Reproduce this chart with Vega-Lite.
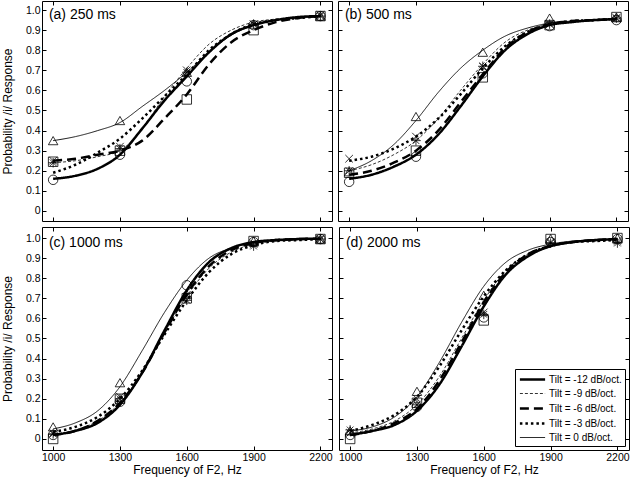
{
  "$schema": "https://vega.github.io/schema/vega-lite/v6.json",
  "padding": {"left": 0, "top": 0, "right": 0, "bottom": 4},
  "background": "white",
  "config": {
    "view": {"stroke": "black", "strokeWidth": 1},
    "font": "Liberation Sans",
    "axis": {"domain": false, "grid": false, "tickColor": "black", "tickSize": -4, "tickWidth": 1, "labelColor": "black", "labelFont": "Liberation Sans", "labelFontSize": 10.5, "titleFont": "Liberation Sans", "titleFontSize": 12, "titleFontWeight": "normal", "titleColor": "black", "labelPadding": 6}
  },
  "datasets": {
    "curves": [
      {"panel":"a","tilt":-12,"f":1000,"p":0.16},{"panel":"a","tilt":-12,"f":1100,"p":0.175},{"panel":"a","tilt":-12,"f":1200,"p":0.21},{"panel":"a","tilt":-12,"f":1300,"p":0.28},{"panel":"a","tilt":-12,"f":1400,"p":0.41},{"panel":"a","tilt":-12,"f":1500,"p":0.55},{"panel":"a","tilt":-12,"f":1600,"p":0.67},{"panel":"a","tilt":-12,"f":1700,"p":0.79},{"panel":"a","tilt":-12,"f":1800,"p":0.88},{"panel":"a","tilt":-12,"f":1900,"p":0.925},{"panel":"a","tilt":-12,"f":2000,"p":0.95},{"panel":"a","tilt":-12,"f":2100,"p":0.965},{"panel":"a","tilt":-12,"f":2200,"p":0.97},
      {"panel":"a","tilt":-9,"f":1000,"p":0.24},{"panel":"a","tilt":-9,"f":1100,"p":0.25},{"panel":"a","tilt":-9,"f":1200,"p":0.27},{"panel":"a","tilt":-9,"f":1300,"p":0.3},{"panel":"a","tilt":-9,"f":1400,"p":0.41},{"panel":"a","tilt":-9,"f":1500,"p":0.57},{"panel":"a","tilt":-9,"f":1600,"p":0.71},{"panel":"a","tilt":-9,"f":1700,"p":0.83},{"panel":"a","tilt":-9,"f":1800,"p":0.9},{"panel":"a","tilt":-9,"f":1900,"p":0.94},{"panel":"a","tilt":-9,"f":2000,"p":0.955},{"panel":"a","tilt":-9,"f":2100,"p":0.965},{"panel":"a","tilt":-9,"f":2200,"p":0.97},
      {"panel":"a","tilt":-6,"f":1000,"p":0.25},{"panel":"a","tilt":-6,"f":1100,"p":0.26},{"panel":"a","tilt":-6,"f":1200,"p":0.28},{"panel":"a","tilt":-6,"f":1300,"p":0.3},{"panel":"a","tilt":-6,"f":1400,"p":0.35},{"panel":"a","tilt":-6,"f":1500,"p":0.46},{"panel":"a","tilt":-6,"f":1600,"p":0.58},{"panel":"a","tilt":-6,"f":1700,"p":0.73},{"panel":"a","tilt":-6,"f":1800,"p":0.84},{"panel":"a","tilt":-6,"f":1900,"p":0.9},{"panel":"a","tilt":-6,"f":2000,"p":0.94},{"panel":"a","tilt":-6,"f":2100,"p":0.96},{"panel":"a","tilt":-6,"f":2200,"p":0.97},
      {"panel":"a","tilt":-3,"f":1000,"p":0.19},{"panel":"a","tilt":-3,"f":1100,"p":0.23},{"panel":"a","tilt":-3,"f":1200,"p":0.29},{"panel":"a","tilt":-3,"f":1300,"p":0.36},{"panel":"a","tilt":-3,"f":1400,"p":0.46},{"panel":"a","tilt":-3,"f":1500,"p":0.57},{"panel":"a","tilt":-3,"f":1600,"p":0.68},{"panel":"a","tilt":-3,"f":1700,"p":0.8},{"panel":"a","tilt":-3,"f":1800,"p":0.88},{"panel":"a","tilt":-3,"f":1900,"p":0.93},{"panel":"a","tilt":-3,"f":2000,"p":0.95},{"panel":"a","tilt":-3,"f":2100,"p":0.96},{"panel":"a","tilt":-3,"f":2200,"p":0.97},
      {"panel":"a","tilt":0,"f":1000,"p":0.35},{"panel":"a","tilt":0,"f":1100,"p":0.37},{"panel":"a","tilt":0,"f":1200,"p":0.4},{"panel":"a","tilt":0,"f":1300,"p":0.44},{"panel":"a","tilt":0,"f":1400,"p":0.52},{"panel":"a","tilt":0,"f":1500,"p":0.6},{"panel":"a","tilt":0,"f":1600,"p":0.69},{"panel":"a","tilt":0,"f":1700,"p":0.79},{"panel":"a","tilt":0,"f":1800,"p":0.875},{"panel":"a","tilt":0,"f":1900,"p":0.925},{"panel":"a","tilt":0,"f":2000,"p":0.95},{"panel":"a","tilt":0,"f":2100,"p":0.96},{"panel":"a","tilt":0,"f":2200,"p":0.97},

      {"panel":"b","tilt":-12,"f":1000,"p":0.16},{"panel":"b","tilt":-12,"f":1100,"p":0.18},{"panel":"b","tilt":-12,"f":1200,"p":0.22},{"panel":"b","tilt":-12,"f":1300,"p":0.28},{"panel":"b","tilt":-12,"f":1400,"p":0.38},{"panel":"b","tilt":-12,"f":1500,"p":0.52},{"panel":"b","tilt":-12,"f":1600,"p":0.67},{"panel":"b","tilt":-12,"f":1700,"p":0.8},{"panel":"b","tilt":-12,"f":1800,"p":0.88},{"panel":"b","tilt":-12,"f":1900,"p":0.925},{"panel":"b","tilt":-12,"f":2000,"p":0.94},{"panel":"b","tilt":-12,"f":2100,"p":0.95},{"panel":"b","tilt":-12,"f":2200,"p":0.955},
      {"panel":"b","tilt":-9,"f":1000,"p":0.2},{"panel":"b","tilt":-9,"f":1100,"p":0.23},{"panel":"b","tilt":-9,"f":1200,"p":0.28},{"panel":"b","tilt":-9,"f":1300,"p":0.35},{"panel":"b","tilt":-9,"f":1400,"p":0.46},{"panel":"b","tilt":-9,"f":1500,"p":0.6},{"panel":"b","tilt":-9,"f":1600,"p":0.73},{"panel":"b","tilt":-9,"f":1700,"p":0.84},{"panel":"b","tilt":-9,"f":1800,"p":0.9},{"panel":"b","tilt":-9,"f":1900,"p":0.93},{"panel":"b","tilt":-9,"f":2000,"p":0.945},{"panel":"b","tilt":-9,"f":2100,"p":0.95},{"panel":"b","tilt":-9,"f":2200,"p":0.955},
      {"panel":"b","tilt":-6,"f":1000,"p":0.18},{"panel":"b","tilt":-6,"f":1100,"p":0.2},{"panel":"b","tilt":-6,"f":1200,"p":0.24},{"panel":"b","tilt":-6,"f":1300,"p":0.3},{"panel":"b","tilt":-6,"f":1400,"p":0.4},{"panel":"b","tilt":-6,"f":1500,"p":0.54},{"panel":"b","tilt":-6,"f":1600,"p":0.68},{"panel":"b","tilt":-6,"f":1700,"p":0.81},{"panel":"b","tilt":-6,"f":1800,"p":0.89},{"panel":"b","tilt":-6,"f":1900,"p":0.93},{"panel":"b","tilt":-6,"f":2000,"p":0.945},{"panel":"b","tilt":-6,"f":2100,"p":0.95},{"panel":"b","tilt":-6,"f":2200,"p":0.955},
      {"panel":"b","tilt":-3,"f":1000,"p":0.25},{"panel":"b","tilt":-3,"f":1100,"p":0.27},{"panel":"b","tilt":-3,"f":1200,"p":0.31},{"panel":"b","tilt":-3,"f":1300,"p":0.37},{"panel":"b","tilt":-3,"f":1400,"p":0.46},{"panel":"b","tilt":-3,"f":1500,"p":0.58},{"panel":"b","tilt":-3,"f":1600,"p":0.71},{"panel":"b","tilt":-3,"f":1700,"p":0.82},{"panel":"b","tilt":-3,"f":1800,"p":0.89},{"panel":"b","tilt":-3,"f":1900,"p":0.93},{"panel":"b","tilt":-3,"f":2000,"p":0.945},{"panel":"b","tilt":-3,"f":2100,"p":0.95},{"panel":"b","tilt":-3,"f":2200,"p":0.955},
      {"panel":"b","tilt":0,"f":1000,"p":0.2},{"panel":"b","tilt":0,"f":1100,"p":0.25},{"panel":"b","tilt":0,"f":1200,"p":0.33},{"panel":"b","tilt":0,"f":1300,"p":0.45},{"panel":"b","tilt":0,"f":1400,"p":0.59},{"panel":"b","tilt":0,"f":1500,"p":0.71},{"panel":"b","tilt":0,"f":1600,"p":0.8},{"panel":"b","tilt":0,"f":1700,"p":0.87},{"panel":"b","tilt":0,"f":1800,"p":0.91},{"panel":"b","tilt":0,"f":1900,"p":0.935},{"panel":"b","tilt":0,"f":2000,"p":0.945},{"panel":"b","tilt":0,"f":2100,"p":0.95},{"panel":"b","tilt":0,"f":2200,"p":0.955},

      {"panel":"c","tilt":-12,"f":1000,"p":0.02},{"panel":"c","tilt":-12,"f":1100,"p":0.04},{"panel":"c","tilt":-12,"f":1200,"p":0.08},{"panel":"c","tilt":-12,"f":1300,"p":0.17},{"panel":"c","tilt":-12,"f":1400,"p":0.33},{"panel":"c","tilt":-12,"f":1500,"p":0.54},{"panel":"c","tilt":-12,"f":1600,"p":0.74},{"panel":"c","tilt":-12,"f":1700,"p":0.88},{"panel":"c","tilt":-12,"f":1800,"p":0.95},{"panel":"c","tilt":-12,"f":1900,"p":0.98},{"panel":"c","tilt":-12,"f":2000,"p":0.99},{"panel":"c","tilt":-12,"f":2100,"p":0.995},{"panel":"c","tilt":-12,"f":2200,"p":0.997},
      {"panel":"c","tilt":-9,"f":1000,"p":0.02},{"panel":"c","tilt":-9,"f":1100,"p":0.045},{"panel":"c","tilt":-9,"f":1200,"p":0.09},{"panel":"c","tilt":-9,"f":1300,"p":0.18},{"panel":"c","tilt":-9,"f":1400,"p":0.33},{"panel":"c","tilt":-9,"f":1500,"p":0.53},{"panel":"c","tilt":-9,"f":1600,"p":0.71},{"panel":"c","tilt":-9,"f":1700,"p":0.85},{"panel":"c","tilt":-9,"f":1800,"p":0.93},{"panel":"c","tilt":-9,"f":1900,"p":0.97},{"panel":"c","tilt":-9,"f":2000,"p":0.985},{"panel":"c","tilt":-9,"f":2100,"p":0.99},{"panel":"c","tilt":-9,"f":2200,"p":0.995},
      {"panel":"c","tilt":-6,"f":1000,"p":0.02},{"panel":"c","tilt":-6,"f":1100,"p":0.04},{"panel":"c","tilt":-6,"f":1200,"p":0.09},{"panel":"c","tilt":-6,"f":1300,"p":0.18},{"panel":"c","tilt":-6,"f":1400,"p":0.33},{"panel":"c","tilt":-6,"f":1500,"p":0.53},{"panel":"c","tilt":-6,"f":1600,"p":0.72},{"panel":"c","tilt":-6,"f":1700,"p":0.86},{"panel":"c","tilt":-6,"f":1800,"p":0.94},{"panel":"c","tilt":-6,"f":1900,"p":0.975},{"panel":"c","tilt":-6,"f":2000,"p":0.99},{"panel":"c","tilt":-6,"f":2100,"p":0.995},{"panel":"c","tilt":-6,"f":2200,"p":0.997},
      {"panel":"c","tilt":-3,"f":1000,"p":0.035},{"panel":"c","tilt":-3,"f":1100,"p":0.06},{"panel":"c","tilt":-3,"f":1200,"p":0.11},{"panel":"c","tilt":-3,"f":1300,"p":0.2},{"panel":"c","tilt":-3,"f":1400,"p":0.34},{"panel":"c","tilt":-3,"f":1500,"p":0.52},{"panel":"c","tilt":-3,"f":1600,"p":0.69},{"panel":"c","tilt":-3,"f":1700,"p":0.83},{"panel":"c","tilt":-3,"f":1800,"p":0.92},{"panel":"c","tilt":-3,"f":1900,"p":0.965},{"panel":"c","tilt":-3,"f":2000,"p":0.985},{"panel":"c","tilt":-3,"f":2100,"p":0.99},{"panel":"c","tilt":-3,"f":2200,"p":0.995},
      {"panel":"c","tilt":0,"f":1000,"p":0.05},{"panel":"c","tilt":0,"f":1100,"p":0.08},{"panel":"c","tilt":0,"f":1200,"p":0.14},{"panel":"c","tilt":0,"f":1300,"p":0.26},{"panel":"c","tilt":0,"f":1400,"p":0.44},{"panel":"c","tilt":0,"f":1500,"p":0.63},{"panel":"c","tilt":0,"f":1600,"p":0.79},{"panel":"c","tilt":0,"f":1700,"p":0.9},{"panel":"c","tilt":0,"f":1800,"p":0.95},{"panel":"c","tilt":0,"f":1900,"p":0.975},{"panel":"c","tilt":0,"f":2000,"p":0.99},{"panel":"c","tilt":0,"f":2100,"p":0.995},{"panel":"c","tilt":0,"f":2200,"p":0.997},

      {"panel":"d","tilt":-12,"f":1000,"p":0.02},{"panel":"d","tilt":-12,"f":1100,"p":0.04},{"panel":"d","tilt":-12,"f":1200,"p":0.07},{"panel":"d","tilt":-12,"f":1300,"p":0.14},{"panel":"d","tilt":-12,"f":1400,"p":0.27},{"panel":"d","tilt":-12,"f":1500,"p":0.46},{"panel":"d","tilt":-12,"f":1600,"p":0.66},{"panel":"d","tilt":-12,"f":1700,"p":0.82},{"panel":"d","tilt":-12,"f":1800,"p":0.91},{"panel":"d","tilt":-12,"f":1900,"p":0.96},{"panel":"d","tilt":-12,"f":2000,"p":0.98},{"panel":"d","tilt":-12,"f":2100,"p":0.99},{"panel":"d","tilt":-12,"f":2200,"p":0.995},
      {"panel":"d","tilt":-9,"f":1000,"p":0.03},{"panel":"d","tilt":-9,"f":1100,"p":0.05},{"panel":"d","tilt":-9,"f":1200,"p":0.09},{"panel":"d","tilt":-9,"f":1300,"p":0.17},{"panel":"d","tilt":-9,"f":1400,"p":0.31},{"panel":"d","tilt":-9,"f":1500,"p":0.5},{"panel":"d","tilt":-9,"f":1600,"p":0.69},{"panel":"d","tilt":-9,"f":1700,"p":0.84},{"panel":"d","tilt":-9,"f":1800,"p":0.92},{"panel":"d","tilt":-9,"f":1900,"p":0.96},{"panel":"d","tilt":-9,"f":2000,"p":0.98},{"panel":"d","tilt":-9,"f":2100,"p":0.985},{"panel":"d","tilt":-9,"f":2200,"p":0.99},
      {"panel":"d","tilt":-6,"f":1000,"p":0.02},{"panel":"d","tilt":-6,"f":1100,"p":0.04},{"panel":"d","tilt":-6,"f":1200,"p":0.08},{"panel":"d","tilt":-6,"f":1300,"p":0.15},{"panel":"d","tilt":-6,"f":1400,"p":0.29},{"panel":"d","tilt":-6,"f":1500,"p":0.48},{"panel":"d","tilt":-6,"f":1600,"p":0.68},{"panel":"d","tilt":-6,"f":1700,"p":0.83},{"panel":"d","tilt":-6,"f":1800,"p":0.92},{"panel":"d","tilt":-6,"f":1900,"p":0.96},{"panel":"d","tilt":-6,"f":2000,"p":0.98},{"panel":"d","tilt":-6,"f":2100,"p":0.99},{"panel":"d","tilt":-6,"f":2200,"p":0.995},
      {"panel":"d","tilt":-3,"f":1000,"p":0.04},{"panel":"d","tilt":-3,"f":1100,"p":0.07},{"panel":"d","tilt":-3,"f":1200,"p":0.12},{"panel":"d","tilt":-3,"f":1300,"p":0.21},{"panel":"d","tilt":-3,"f":1400,"p":0.36},{"panel":"d","tilt":-3,"f":1500,"p":0.54},{"panel":"d","tilt":-3,"f":1600,"p":0.71},{"panel":"d","tilt":-3,"f":1700,"p":0.84},{"panel":"d","tilt":-3,"f":1800,"p":0.92},{"panel":"d","tilt":-3,"f":1900,"p":0.96},{"panel":"d","tilt":-3,"f":2000,"p":0.98},{"panel":"d","tilt":-3,"f":2100,"p":0.985},{"panel":"d","tilt":-3,"f":2200,"p":0.99},
      {"panel":"d","tilt":0,"f":1000,"p":0.04},{"panel":"d","tilt":0,"f":1100,"p":0.06},{"panel":"d","tilt":0,"f":1200,"p":0.11},{"panel":"d","tilt":0,"f":1300,"p":0.21},{"panel":"d","tilt":0,"f":1400,"p":0.38},{"panel":"d","tilt":0,"f":1500,"p":0.58},{"panel":"d","tilt":0,"f":1600,"p":0.76},{"panel":"d","tilt":0,"f":1700,"p":0.88},{"panel":"d","tilt":0,"f":1800,"p":0.94},{"panel":"d","tilt":0,"f":1900,"p":0.97},{"panel":"d","tilt":0,"f":2000,"p":0.985},{"panel":"d","tilt":0,"f":2100,"p":0.99},{"panel":"d","tilt":0,"f":2200,"p":0.995}
    ],
    "marks": [
      {"panel":"a","level":"-12 dB","f":1000,"p":0.155},{"panel":"a","level":"-12 dB","f":1300,"p":0.28},{"panel":"a","level":"-12 dB","f":1600,"p":0.645},{"panel":"a","level":"-12 dB","f":1900,"p":0.925},{"panel":"a","level":"-12 dB","f":2200,"p":0.97},
      {"panel":"a","level":"-9 dB","f":1000,"p":0.24},{"panel":"a","level":"-9 dB","f":1300,"p":0.31},{"panel":"a","level":"-9 dB","f":1600,"p":0.69},{"panel":"a","level":"-9 dB","f":1900,"p":0.93},{"panel":"a","level":"-9 dB","f":2200,"p":0.97},
      {"panel":"a","level":"-6 dB","f":1000,"p":0.245},{"panel":"a","level":"-6 dB","f":1300,"p":0.3},{"panel":"a","level":"-6 dB","f":1600,"p":0.555},{"panel":"a","level":"-6 dB","f":1900,"p":0.9},{"panel":"a","level":"-6 dB","f":2200,"p":0.97},
      {"panel":"a","level":"-3 dB","f":1000,"p":0.25},{"panel":"a","level":"-3 dB","f":1300,"p":0.32},{"panel":"a","level":"-3 dB","f":1600,"p":0.7},{"panel":"a","level":"-3 dB","f":1900,"p":0.93},{"panel":"a","level":"-3 dB","f":2200,"p":0.975},
      {"panel":"a","level":"0 dB","f":1000,"p":0.35},{"panel":"a","level":"0 dB","f":1300,"p":0.45},{"panel":"a","level":"0 dB","f":1600,"p":0.69},{"panel":"a","level":"0 dB","f":1900,"p":0.93},{"panel":"a","level":"0 dB","f":2200,"p":0.97},
      {"panel":"b","level":"-12 dB","f":1000,"p":0.145},{"panel":"b","level":"-12 dB","f":1300,"p":0.27},{"panel":"b","level":"-12 dB","f":1600,"p":0.685},{"panel":"b","level":"-12 dB","f":1900,"p":0.92},{"panel":"b","level":"-12 dB","f":2200,"p":0.95},
      {"panel":"b","level":"-9 dB","f":1000,"p":0.2},{"panel":"b","level":"-9 dB","f":1300,"p":0.35},{"panel":"b","level":"-9 dB","f":1600,"p":0.72},{"panel":"b","level":"-9 dB","f":1900,"p":0.93},{"panel":"b","level":"-9 dB","f":2200,"p":0.96},
      {"panel":"b","level":"-6 dB","f":1000,"p":0.19},{"panel":"b","level":"-6 dB","f":1300,"p":0.3},{"panel":"b","level":"-6 dB","f":1600,"p":0.665},{"panel":"b","level":"-6 dB","f":1900,"p":0.925},{"panel":"b","level":"-6 dB","f":2200,"p":0.965},
      {"panel":"b","level":"-3 dB","f":1000,"p":0.26},{"panel":"b","level":"-3 dB","f":1300,"p":0.37},{"panel":"b","level":"-3 dB","f":1600,"p":0.72},{"panel":"b","level":"-3 dB","f":1900,"p":0.93},{"panel":"b","level":"-3 dB","f":2200,"p":0.96},
      {"panel":"b","level":"0 dB","f":1000,"p":0.195},{"panel":"b","level":"0 dB","f":1300,"p":0.47},{"panel":"b","level":"0 dB","f":1600,"p":0.79},{"panel":"b","level":"0 dB","f":1900,"p":0.96},{"panel":"b","level":"0 dB","f":2200,"p":0.965},
      {"panel":"c","level":"-12 dB","f":1000,"p":0.02},{"panel":"c","level":"-12 dB","f":1300,"p":0.185},{"panel":"c","level":"-12 dB","f":1600,"p":0.765},{"panel":"c","level":"-12 dB","f":1900,"p":0.98},{"panel":"c","level":"-12 dB","f":2200,"p":0.995},
      {"panel":"c","level":"-9 dB","f":1000,"p":0.025},{"panel":"c","level":"-9 dB","f":1300,"p":0.2},{"panel":"c","level":"-9 dB","f":1600,"p":0.69},{"panel":"c","level":"-9 dB","f":1900,"p":0.96},{"panel":"c","level":"-9 dB","f":2200,"p":0.995},
      {"panel":"c","level":"-6 dB","f":1000,"p":0.0},{"panel":"c","level":"-6 dB","f":1300,"p":0.2},{"panel":"c","level":"-6 dB","f":1600,"p":0.7},{"panel":"c","level":"-6 dB","f":1900,"p":0.985},{"panel":"c","level":"-6 dB","f":2200,"p":0.995},
      {"panel":"c","level":"-3 dB","f":1000,"p":0.03},{"panel":"c","level":"-3 dB","f":1300,"p":0.21},{"panel":"c","level":"-3 dB","f":1600,"p":0.71},{"panel":"c","level":"-3 dB","f":1900,"p":0.97},{"panel":"c","level":"-3 dB","f":2200,"p":0.995},
      {"panel":"c","level":"0 dB","f":1000,"p":0.06},{"panel":"c","level":"0 dB","f":1300,"p":0.28},{"panel":"c","level":"0 dB","f":1600,"p":0.72},{"panel":"c","level":"0 dB","f":1900,"p":0.985},{"panel":"c","level":"0 dB","f":2200,"p":0.995},
      {"panel":"d","level":"-12 dB","f":1000,"p":0.02},{"panel":"d","level":"-12 dB","f":1300,"p":0.16},{"panel":"d","level":"-12 dB","f":1600,"p":0.605},{"panel":"d","level":"-12 dB","f":1900,"p":0.98},{"panel":"d","level":"-12 dB","f":2200,"p":0.995},
      {"panel":"d","level":"-9 dB","f":1000,"p":0.045},{"panel":"d","level":"-9 dB","f":1300,"p":0.17},{"panel":"d","level":"-9 dB","f":1600,"p":0.62},{"panel":"d","level":"-9 dB","f":1900,"p":0.975},{"panel":"d","level":"-9 dB","f":2200,"p":0.975},
      {"panel":"d","level":"-6 dB","f":1000,"p":0.0},{"panel":"d","level":"-6 dB","f":1300,"p":0.18},{"panel":"d","level":"-6 dB","f":1600,"p":0.59},{"panel":"d","level":"-6 dB","f":1900,"p":0.995},{"panel":"d","level":"-6 dB","f":2200,"p":1.0},
      {"panel":"d","level":"-3 dB","f":1000,"p":0.03},{"panel":"d","level":"-3 dB","f":1300,"p":0.2},{"panel":"d","level":"-3 dB","f":1600,"p":0.63},{"panel":"d","level":"-3 dB","f":1900,"p":0.98},{"panel":"d","level":"-3 dB","f":2200,"p":0.985},
      {"panel":"d","level":"0 dB","f":1000,"p":0.04},{"panel":"d","level":"0 dB","f":1300,"p":0.237},{"panel":"d","level":"0 dB","f":1600,"p":0.715},{"panel":"d","level":"0 dB","f":1900,"p":0.997},{"panel":"d","level":"0 dB","f":2200,"p":1.0}
    ]
  },
  "resolve": {
    "scale": {"strokeDash": "independent", "strokeWidth": "independent", "shape": "independent"},
    "legend": {"strokeDash": "independent", "strokeWidth": "independent", "shape": "independent"}
  },
  "spacing": 4,
  "vconcat": [
    {
      "spacing": 4,
      "resolve": {
        "scale": {"strokeDash": "independent", "strokeWidth": "independent", "shape": "independent"},
        "legend": {"strokeDash": "independent", "strokeWidth": "independent", "shape": "independent"}
      },
      "hconcat": [
        {
          "width": 290, "height": 220,
          "resolve": {"axis": {"x": "independent", "y": "independent"}},
          "layer": [
            {
              "data": {"name": "curves"},
              "transform": [{"filter": "datum.panel == 'a'"}],
              "mark": {"type": "line", "interpolate": "monotone", "color": "black", "strokeCap": "butt"},
              "encoding": {
                "x": {"field": "f", "type": "quantitative", "scale": {"domain": [950, 2252], "nice": false, "zero": false}, "axis": {"orient": "bottom", "labels": false, "title": null, "values": [1000, 1300, 1600, 1900, 2200]}},
                "y": {"field": "p", "type": "quantitative", "scale": {"domain": [-0.05, 1.045], "nice": false, "zero": false}, "axis": {"orient": "left", "title": "Probability /i/ Response", "titlePadding": 11, "values": [0, 0.1, 0.2, 0.3, 0.4, 0.5, 0.6, 0.7, 0.8, 0.9, 1.0], "labelExpr": "datum.value == 0 ? '0' : format(datum.value, '.1f')"}},
                "strokeDash": {"field": "tilt", "type": "ordinal", "scale": {"type": "ordinal", "domain": [-12, -9, -6, -3, 0], "range": [[1, 0], [3, 2], [9, 5], [2.5, 3], [1, 0]]}, "legend": null},
                "strokeWidth": {"field": "tilt", "type": "ordinal", "scale": {"type": "ordinal", "domain": [-12, -9, -6, -3, 0], "range": [2.5, 0.8, 2.5, 2.5, 0.9]}, "legend": null}
              }
            },
            {
              "data": {"name": "marks"},
              "transform": [{"filter": "datum.panel == 'a'"}],
              "mark": {"type": "point", "filled": false, "color": "black", "strokeWidth": 0.8, "size": 90, "opacity": 1},
              "encoding": {
                "x": {"field": "f", "type": "quantitative", "axis": null},
                "y": {"field": "p", "type": "quantitative", "axis": null},
                "shape": {"field": "level", "type": "nominal", "scale": {"domain": ["-12 dB", "-9 dB", "-6 dB", "-3 dB", "0 dB"], "range": ["circle", "M0,-1L0,1M-1,0L1,0M-0.7,-0.7L0.7,0.7M-0.7,0.7L0.7,-0.7", "square", "M-0.8,-0.8L0.8,0.8M-0.8,0.8L0.8,-0.8", "triangle-up"]}, "legend": null}
              }
            },
            {
              "data": {"values": [{"label": "(a) 250 ms"}]},
              "mark": {"type": "text", "align": "left", "baseline": "middle", "fontSize": 14, "font": "Liberation Sans", "color": "black"},
              "encoding": {
                "x": {"datum": 981, "type": "quantitative", "axis": null},
                "y": {"datum": 0.975, "type": "quantitative", "axis": null},
                "text": {"field": "label"}
              }
            },
            {
              "data": {"name": "marks"},
              "transform": [{"filter": "datum.panel == 'a'"}],
              "mark": {"type": "point", "opacity": 0},
              "encoding": {
                "x": {"field": "f", "type": "quantitative", "axis": {"orient": "top", "labels": false, "title": null, "values": [1000, 1300, 1600, 1900, 2200]}},
                "y": {"field": "p", "type": "quantitative", "axis": {"orient": "right", "labels": false, "title": null, "values": [0, 0.1, 0.2, 0.3, 0.4, 0.5, 0.6, 0.7, 0.8, 0.9, 1.0]}}
              }
            }
          ]
        },
        {
          "width": 290, "height": 220,
          "resolve": {"axis": {"x": "independent", "y": "independent"}},
          "layer": [
            {
              "data": {"name": "curves"},
              "transform": [{"filter": "datum.panel == 'b'"}],
              "mark": {"type": "line", "interpolate": "monotone", "color": "black", "strokeCap": "butt"},
              "encoding": {
                "x": {"field": "f", "type": "quantitative", "scale": {"domain": [950, 2252], "nice": false, "zero": false}, "axis": {"orient": "bottom", "labels": false, "title": null, "values": [1000, 1300, 1600, 1900, 2200]}},
                "y": {"field": "p", "type": "quantitative", "scale": {"domain": [-0.05, 1.045], "nice": false, "zero": false}, "axis": {"orient": "left", "labels": false, "title": null, "values": [0, 0.1, 0.2, 0.3, 0.4, 0.5, 0.6, 0.7, 0.8, 0.9, 1.0]}},
                "strokeDash": {"field": "tilt", "type": "ordinal", "scale": {"type": "ordinal", "domain": [-12, -9, -6, -3, 0], "range": [[1, 0], [3, 2], [9, 5], [2.5, 3], [1, 0]]}, "legend": null},
                "strokeWidth": {"field": "tilt", "type": "ordinal", "scale": {"type": "ordinal", "domain": [-12, -9, -6, -3, 0], "range": [2.5, 0.8, 2.5, 2.5, 0.9]}, "legend": null}
              }
            },
            {
              "data": {"name": "marks"},
              "transform": [{"filter": "datum.panel == 'b'"}],
              "mark": {"type": "point", "filled": false, "color": "black", "strokeWidth": 0.8, "size": 90, "opacity": 1},
              "encoding": {
                "x": {"field": "f", "type": "quantitative", "axis": null},
                "y": {"field": "p", "type": "quantitative", "axis": null},
                "shape": {"field": "level", "type": "nominal", "scale": {"domain": ["-12 dB", "-9 dB", "-6 dB", "-3 dB", "0 dB"], "range": ["circle", "M0,-1L0,1M-1,0L1,0M-0.7,-0.7L0.7,0.7M-0.7,0.7L0.7,-0.7", "square", "M-0.8,-0.8L0.8,0.8M-0.8,0.8L0.8,-0.8", "triangle-up"]}, "legend": null}
              }
            },
            {
              "data": {"values": [{"label": "(b) 500 ms"}]},
              "mark": {"type": "text", "align": "left", "baseline": "middle", "fontSize": 14, "font": "Liberation Sans", "color": "black"},
              "encoding": {
                "x": {"datum": 981, "type": "quantitative", "axis": null},
                "y": {"datum": 0.975, "type": "quantitative", "axis": null},
                "text": {"field": "label"}
              }
            },
            {
              "data": {"name": "marks"},
              "transform": [{"filter": "datum.panel == 'b'"}],
              "mark": {"type": "point", "opacity": 0},
              "encoding": {
                "x": {"field": "f", "type": "quantitative", "axis": {"orient": "top", "labels": false, "title": null, "values": [1000, 1300, 1600, 1900, 2200]}},
                "y": {"field": "p", "type": "quantitative", "axis": {"orient": "right", "labels": false, "title": null, "values": [0, 0.1, 0.2, 0.3, 0.4, 0.5, 0.6, 0.7, 0.8, 0.9, 1.0]}}
              }
            }
          ]
        }
      ]
    },
    {
      "spacing": 4,
      "resolve": {
        "scale": {"strokeDash": "independent", "strokeWidth": "independent", "shape": "independent"},
        "legend": {"strokeDash": "independent", "strokeWidth": "independent", "shape": "independent"}
      },
      "hconcat": [
        {
          "width": 290, "height": 223,
          "resolve": {"axis": {"x": "independent", "y": "independent"}},
          "layer": [
            {
              "data": {"name": "curves"},
              "transform": [{"filter": "datum.panel == 'c'"}],
              "mark": {"type": "line", "interpolate": "monotone", "color": "black", "strokeCap": "butt"},
              "encoding": {
                "x": {"field": "f", "type": "quantitative", "scale": {"domain": [950, 2252], "nice": false, "zero": false}, "axis": {"orient": "bottom", "title": "Frequency of F2, Hz", "titlePadding": 2, "format": "d", "values": [1000, 1300, 1600, 1900, 2200]}},
                "y": {"field": "p", "type": "quantitative", "scale": {"domain": [-0.055, 1.055], "nice": false, "zero": false}, "axis": {"orient": "left", "title": "Probability /i/ Response", "titlePadding": 11, "values": [0, 0.1, 0.2, 0.3, 0.4, 0.5, 0.6, 0.7, 0.8, 0.9, 1.0], "labelExpr": "datum.value == 0 ? '0' : format(datum.value, '.1f')"}},
                "strokeDash": {"field": "tilt", "type": "ordinal", "scale": {"type": "ordinal", "domain": [-12, -9, -6, -3, 0], "range": [[1, 0], [3, 2], [9, 5], [2.5, 3], [1, 0]]}, "legend": null},
                "strokeWidth": {"field": "tilt", "type": "ordinal", "scale": {"type": "ordinal", "domain": [-12, -9, -6, -3, 0], "range": [2.5, 0.8, 2.5, 2.5, 0.9]}, "legend": null}
              }
            },
            {
              "data": {"name": "marks"},
              "transform": [{"filter": "datum.panel == 'c'"}],
              "mark": {"type": "point", "filled": false, "color": "black", "strokeWidth": 0.8, "size": 90, "opacity": 1},
              "encoding": {
                "x": {"field": "f", "type": "quantitative", "axis": null},
                "y": {"field": "p", "type": "quantitative", "axis": null},
                "shape": {"field": "level", "type": "nominal", "scale": {"domain": ["-12 dB", "-9 dB", "-6 dB", "-3 dB", "0 dB"], "range": ["circle", "M0,-1L0,1M-1,0L1,0M-0.7,-0.7L0.7,0.7M-0.7,0.7L0.7,-0.7", "square", "M-0.8,-0.8L0.8,0.8M-0.8,0.8L0.8,-0.8", "triangle-up"]}, "legend": null}
              }
            },
            {
              "data": {"values": [{"label": "(c) 1000 ms"}]},
              "mark": {"type": "text", "align": "left", "baseline": "middle", "fontSize": 14, "font": "Liberation Sans", "color": "black"},
              "encoding": {
                "x": {"datum": 981, "type": "quantitative", "axis": null},
                "y": {"datum": 0.975, "type": "quantitative", "axis": null},
                "text": {"field": "label"}
              }
            },
            {
              "data": {"name": "marks"},
              "transform": [{"filter": "datum.panel == 'c'"}],
              "mark": {"type": "point", "opacity": 0},
              "encoding": {
                "x": {"field": "f", "type": "quantitative", "axis": {"orient": "top", "labels": false, "title": null, "values": [1000, 1300, 1600, 1900, 2200]}},
                "y": {"field": "p", "type": "quantitative", "axis": {"orient": "right", "labels": false, "title": null, "values": [0, 0.1, 0.2, 0.3, 0.4, 0.5, 0.6, 0.7, 0.8, 0.9, 1.0]}}
              }
            }
          ]
        },
        {
          "width": 290, "height": 223,
          "resolve": {"axis": {"x": "independent", "y": "independent"}},
          "layer": [
            {
              "data": {"name": "curves"},
              "transform": [{"filter": "datum.panel == 'd'"}],
              "mark": {"type": "line", "interpolate": "monotone", "color": "black", "strokeCap": "butt"},
              "encoding": {
                "x": {"field": "f", "type": "quantitative", "scale": {"domain": [950, 2252], "nice": false, "zero": false}, "axis": {"orient": "bottom", "title": "Frequency of F2, Hz", "titlePadding": 2, "format": "d", "values": [1000, 1300, 1600, 1900, 2200]}},
                "y": {"field": "p", "type": "quantitative", "scale": {"domain": [-0.055, 1.055], "nice": false, "zero": false}, "axis": {"orient": "left", "labels": false, "title": null, "values": [0, 0.1, 0.2, 0.3, 0.4, 0.5, 0.6, 0.7, 0.8, 0.9, 1.0]}},
                "strokeDash": {"field": "tilt", "type": "ordinal", "scale": {"type": "ordinal", "domain": [-12, -9, -6, -3, 0], "range": [[1, 0], [3, 2], [9, 5], [2.5, 3], [1, 0]]}, "legend": {"orient": "bottom-right", "offset": 4, "title": null, "symbolType": "M-2.1,0L2.1,0", "symbolSize": 144, "symbolOffset": 7, "labelOffset": 9, "symbolStrokeColor": "black", "labelExpr": "'Tilt = ' + datum.label + ' dB/oct.'", "labelFont": "Liberation Sans", "labelFontSize": 10, "labelColor": "black", "strokeColor": "black", "fillColor": "white", "padding": 3, "rowPadding": 2}},
                "strokeWidth": {"field": "tilt", "type": "ordinal", "scale": {"type": "ordinal", "domain": [-12, -9, -6, -3, 0], "range": [2.5, 0.8, 2.5, 2.5, 0.9]}, "legend": {"orient": "bottom-right", "offset": 4, "title": null, "symbolType": "M-2.1,0L2.1,0", "symbolSize": 144, "symbolOffset": 7, "labelOffset": 9, "symbolStrokeColor": "black", "labelExpr": "'Tilt = ' + datum.label + ' dB/oct.'", "labelFont": "Liberation Sans", "labelFontSize": 10, "labelColor": "black", "strokeColor": "black", "fillColor": "white", "padding": 3, "rowPadding": 2}}
              }
            },
            {
              "data": {"name": "marks"},
              "transform": [{"filter": "datum.panel == 'd'"}],
              "mark": {"type": "point", "filled": false, "color": "black", "strokeWidth": 0.8, "size": 90, "opacity": 1},
              "encoding": {
                "x": {"field": "f", "type": "quantitative", "axis": null},
                "y": {"field": "p", "type": "quantitative", "axis": null},
                "shape": {"field": "level", "type": "nominal", "scale": {"domain": ["-12 dB", "-9 dB", "-6 dB", "-3 dB", "0 dB"], "range": ["circle", "M0,-1L0,1M-1,0L1,0M-0.7,-0.7L0.7,0.7M-0.7,0.7L0.7,-0.7", "square", "M-0.8,-0.8L0.8,0.8M-0.8,0.8L0.8,-0.8", "triangle-up"]}, "legend": null}
              }
            },
            {
              "data": {"values": [{"label": "(d) 2000 ms"}]},
              "mark": {"type": "text", "align": "left", "baseline": "middle", "fontSize": 14, "font": "Liberation Sans", "color": "black"},
              "encoding": {
                "x": {"datum": 981, "type": "quantitative", "axis": null},
                "y": {"datum": 0.975, "type": "quantitative", "axis": null},
                "text": {"field": "label"}
              }
            },
            {
              "data": {"name": "marks"},
              "transform": [{"filter": "datum.panel == 'd'"}],
              "mark": {"type": "point", "opacity": 0},
              "encoding": {
                "x": {"field": "f", "type": "quantitative", "axis": {"orient": "top", "labels": false, "title": null, "values": [1000, 1300, 1600, 1900, 2200]}},
                "y": {"field": "p", "type": "quantitative", "axis": {"orient": "right", "labels": false, "title": null, "values": [0, 0.1, 0.2, 0.3, 0.4, 0.5, 0.6, 0.7, 0.8, 0.9, 1.0]}}
              }
            }
          ]
        }
      ]
    }
  ]
}
